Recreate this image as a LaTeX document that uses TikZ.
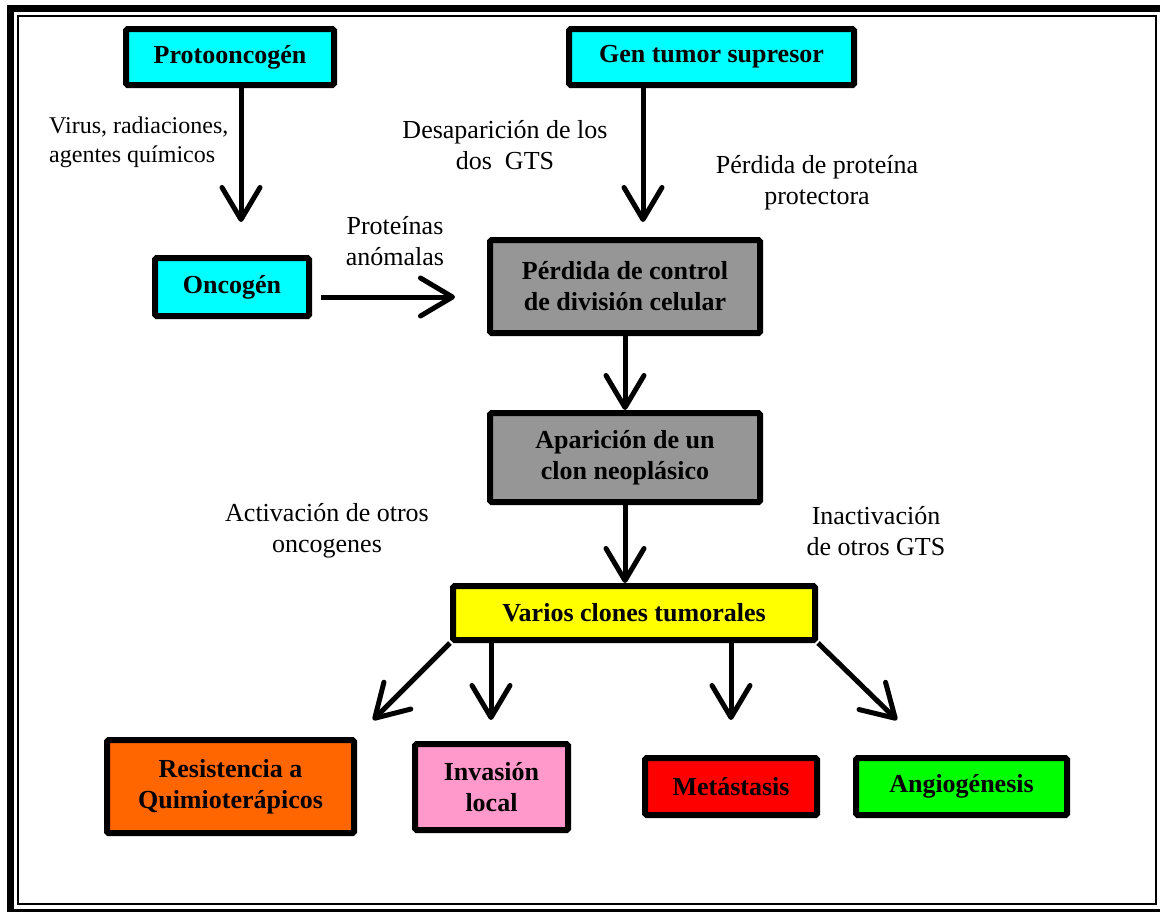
\documentclass[tikz,border=0pt]{standalone}
\usepackage{fontspec}
\setmainfont{Liberation Serif}
\usetikzlibrary{arrows.meta,calc}

\definecolor{cyanbox}{RGB}{0,255,255}
\definecolor{graybox}{RGB}{150,150,150}
\definecolor{yellowbox}{RGB}{255,255,0}
\definecolor{orangebox}{RGB}{255,102,0}
\definecolor{pinkbox}{RGB}{255,153,204}
\definecolor{redbox}{RGB}{255,0,0}
\definecolor{greenbox}{RGB}{0,255,0}

\begin{document}
\begin{tikzpicture}[x=1pt,y=-1pt,
  box/.style={draw=black,line width=6pt,rounded corners=1.5pt,align=center,inner sep=0pt,
    font=\fontsize{26}{31}\selectfont\bfseries},
  lbl/.style={align=center,inner sep=0pt,font=\fontsize{26}{31}\selectfont},
  arr/.style={line width=5pt,-{Straight Barb[length=32pt,width=38pt,round]}},
]
\useasboundingbox (0,0) rectangle (1160,911);
\clip (0,0) rectangle (1160,911);
\fill[white] (0,0) rectangle (1160,911);

% double frame
\draw[line width=7pt] (10.5,8.5) rectangle (1175,912);
\draw[line width=2pt] (18,16) rectangle (1156,904);

% boxes
\node[box,fill=cyanbox,minimum width=208pt,minimum height=56pt] (proto) at (230,57) {Protooncogén};
\node[box,fill=cyanbox,minimum width=285pt,minimum height=56pt] (gen) at (711.5,57) {Gen tumor supresor};
\node[box,fill=cyanbox,minimum width=154pt,minimum height=58pt] (onco) at (232,287) {Oncogén};
\node[box,fill=graybox,minimum width=270pt,minimum height=93pt] (perd) at (625,286.5) {Pérdida de control\\de división celular};
\node[box,fill=graybox,minimum width=270pt,minimum height=89pt] (apar) at (625,457.5) {Aparición de un\\clon neoplásico};
\node[box,fill=yellowbox,minimum width=362pt,minimum height=54pt] (varios) at (634,613) {Varios clones tumorales};
\node[box,fill=orangebox,minimum width=247pt,minimum height=93pt] (resist) at (230.5,786.5) {Resistencia a\\Quimioterápicos};
\node[box,fill=pinkbox,minimum width=153pt,minimum height=86pt] (invas) at (491.5,787) {Invasión\\local};
\node[box,fill=redbox,minimum width=172pt,minimum height=57pt] (meta) at (731,786.5) {Metástasis};
\node[box,fill=greenbox,minimum width=211pt,minimum height=57pt] (angio) at (961.5,786.5) {Angiogénesis};

% labels
\node[lbl,font=\fontsize{24}{29}\selectfont,align=left,anchor=west] (l1) at (49,142) {Virus, radiaciones,\\agentes químicos};
\node[lbl] (l2) at (505,145) {Desaparición de los\\dos\ \ GTS};
\node[lbl] (l3) at (817,183) {Pérdida de proteína\\protectora};
\node[lbl] (l4) at (395,241) {Proteínas\\anómalas};
\node[lbl] (l5) at (327,531) {Activación de otros\\oncogenes};
\node[lbl] (l6) at (876,531) {Inactivación\\de otros GTS};

% arrow end points
\coordinate (a1) at (241,222);
\coordinate (a2) at (643,222);
\coordinate (a3) at (455,297);
\coordinate (r1) at (373,720);
\coordinate (r2) at (491,720);
\coordinate (r3) at (731,720);
\coordinate (r4) at (897,720);

% connectors
\draw[arr] (proto.south -| a1) -- (a1);
\draw[arr] (gen.south -| a2) -- (a2);
\draw[arr] ($(onco.east |- a3)+(9,0)$) -- (a3);
\draw[arr] (perd.south) -- (apar.north);
\draw[arr] (apar.south) -- (varios.north -| apar.south);
\draw[arr] (varios.south west) -- (r1);
\draw[arr] (varios.south -| r2) -- (r2);
\draw[arr] (varios.south -| r3) -- (r3);
\draw[arr] (varios.south east) -- (r4);
\end{tikzpicture}
\end{document}
